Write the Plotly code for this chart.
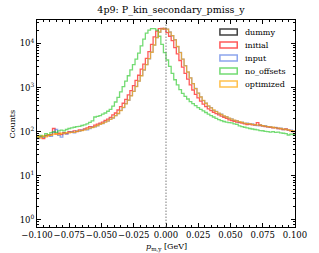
import numpy as np
import plotly.graph_objects as go

bin_lo, bin_hi, n_bins = -0.1, 0.1, 100
series_names = ["dummy", "initial", "input", "no_offsets", "optimized"]

dummy = [0] * 100

initial = [72, 78, 70, 82, 80, 86, 118, 88, 92, 86,
           95, 90, 100, 98, 104, 100, 110, 108, 116, 122,
           130, 128, 140, 148, 156, 165, 180, 192, 210, 240,
           265, 310, 370, 440, 540, 680, 850, 1100, 1450, 1900,
           2600, 3400, 4600, 6500, 9500, 14000, 19000, 21500, 22000, 21000,
           17500, 14500, 11500, 8000, 5800, 4100, 2900, 2100, 1550, 1150,
           880, 700, 580, 490, 420, 370, 330, 300, 275, 255,
           240, 225, 212, 200, 185, 178, 172, 165, 160, 156,
           150, 145, 148, 142, 140, 160, 138, 135, 130, 128,
           125, 122, 124, 118, 116, 112, 115, 108, 104, 100]

input_ = [70, 76, 74, 80, 86, 78, 96, 112, 82, 75,
          92, 88, 96, 100, 94, 104, 102, 108, 112, 110,
          118, 126, 128, 136, 148, 152, 166, 174, 192, 204,
          232, 256, 305, 350, 430, 515, 655, 815, 1060, 1390,
          1860, 2480, 3320, 4480, 6350, 9150, 13600, 17900, 21100, 21900,
          21000, 18100, 14900, 12100, 8450, 6250, 4380, 3120, 2240, 1660,
          1220, 950, 745, 615, 505, 445, 380, 350, 305, 288,
          258, 248, 225, 218, 200, 195, 180, 178, 165, 164,
          154, 155, 148, 150, 142, 138, 145, 134, 136, 128,
          130, 124, 125, 118, 120, 112, 114, 108, 108, 102]

no_offsets = [75, 82, 78, 90, 86, 95, 100, 96, 104, 108,
              104, 112, 118, 122, 126, 130, 132, 138, 142, 150,
              162, 175, 215, 222, 232, 250, 265, 290, 320, 380,
              470, 600, 800, 1050, 1400, 1850, 2500, 3300, 4400, 6000,
              8800, 12500, 17000, 20000, 21500, 21500, 20000, 14500, 9500, 6200,
              4200, 3000, 2100, 1500, 1150, 900, 740, 630, 550, 480,
              430, 390, 350, 320, 295, 272, 250, 232, 215, 200,
              188, 178, 170, 165, 160, 158, 150, 146, 135, 130,
              126, 122, 118, 115, 112, 110, 106, 105, 102, 100,
              98, 100, 96, 98, 94, 92, 90, 84, 88, 86]

optimized = [78, 72, 80, 76, 84, 82, 88, 90, 86, 92,
             90, 95, 94, 98, 96, 102, 104, 106, 110, 114,
             120, 124, 130, 138, 146, 154, 164, 176, 190, 206,
             230, 258, 300, 355, 425, 520, 650, 820, 1050, 1400,
             1850, 2500, 3300, 4500, 6300, 9200, 13500, 18000, 21000, 22000,
             21000, 18000, 15000, 12000, 8500, 6200, 4400, 3100, 2250, 1650,
             1230, 940, 750, 610, 510, 440, 385, 345, 310, 285,
             262, 245, 228, 215, 202, 192, 182, 175, 168, 162,
             156, 152, 150, 146, 144, 140, 142, 136, 134, 130,
             128, 126, 122, 120, 118, 114, 112, 110, 106, 104]

x_ticks = [-0.100, -0.075, -0.050, -0.025, 0.000, 0.025, 0.050, 0.075, 0.100]
y_ticks = [1, 10, 100, 1000, 10000]
y_ticktext = ["10<sup>0</sup>", "10<sup>1</sup>", "10<sup>2</sup>", "10<sup>3</sup>", "10<sup>4</sup>"]

series_values = [dummy, initial, input_, no_offsets, optimized]
colors = ["rgba(0,0,0,0.75)", "rgba(255,0,0,0.65)", "rgba(65,105,225,0.6)",
          "rgba(40,200,40,0.65)", "rgba(255,165,0,0.7)"]

edges = np.linspace(bin_lo, bin_hi, n_bins + 1)
FONT = "DejaVu Serif"

fig = go.Figure()
for name, vals, col in zip(series_names, series_values, colors):
    v = np.array(vals, dtype=float)
    v[v <= 0] = np.nan
    y = np.append(v, v[-1])
    fig.add_trace(go.Scatter(x=edges, y=y, mode="lines", line=dict(color=col, width=1.3, shape="hv"),
                             name=name, showlegend=False, connectgaps=False, hoverinfo="skip"))

# vertical dotted line at 0
fig.add_shape(type="line", x0=0, x1=0, y0=0, y1=1, xref="x", yref="paper",
              line=dict(color="rgba(110,110,110,0.9)", width=1, dash="1.5px,1.5px"))

# manual legend
leg_y_px = [32, 45, 58, 71, 84]
pw, ph, ml, mt = 268, 207, 37, 20
for name, col, py in zip(series_names, colors, leg_y_px):
    x0 = (227 - ml) / pw
    x1 = (245 - ml) / pw
    y0 = 1 - (py + 3 - mt) / ph
    y1 = 1 - (py - 3 - mt) / ph
    fig.add_shape(type="rect", xref="paper", yref="paper", x0=x0, x1=x1, y0=y0, y1=y1,
                  line=dict(color=col, width=1.5), fillcolor="rgba(0,0,0,0)")
    fig.add_annotation(text=name, xref="paper", yref="paper", x=(251 - ml) / pw,
                       y=1 - (py - mt) / ph, xanchor="left", yanchor="middle", showarrow=False,
                       font=dict(family=FONT, size=8, color="black"))

minor_y = [m * 10 ** k for k in range(-1, 5) for m in range(2, 10)]

axis_common = dict(showline=True, linecolor="black", linewidth=1, mirror="allticks",
                   ticks="inside", ticklen=4, tickcolor="black", showgrid=False, zeroline=False,
                   tickfont=dict(family=FONT, size=8.5, color="black"))

fig.update_layout(
    width=319, height=253,
    margin=dict(l=ml, r=14, t=mt, b=26),
    paper_bgcolor="white", plot_bgcolor="white",
    title=dict(text="4p9: P_kin_secondary_pmiss_y", x=0.536, xanchor="center",
               y=1 - 10 / 253, yanchor="middle", yref="container",
               font=dict(family=FONT, size=9.5, color="black")),
    xaxis=dict(range=[bin_lo, bin_hi], tickvals=x_ticks, tickangle=0,
               ticktext=[f"{t:.3f}".replace("-", "\u2212") for t in x_ticks],
               minor=dict(dtick=0.005, tick0=0, ticks="inside", ticklen=2, tickcolor="black"),
               **axis_common),
    yaxis=dict(type="log", range=[-0.16, 4.53], tickvals=y_ticks, ticktext=y_ticktext,
               minor=dict(tickvals=minor_y, ticks="inside", ticklen=2, tickcolor="black"),
               **axis_common),
    showlegend=False,
)

fig.add_annotation(text="<i>p</i><sub>m,y</sub> [GeV]", xref="paper", yref="paper",
                   x=0.5, y=-(247 - 227) / ph, xanchor="center", yanchor="middle",
                   showarrow=False, font=dict(family=FONT, size=8, color="black"))
fig.add_annotation(text="Counts", xref="paper", yref="paper", x=(12 - ml) / pw, y=0.5,
                   textangle=-90, xanchor="center", yanchor="middle", showarrow=False,
                   font=dict(family=FONT, size=8, color="black"))

fig.write_html("out.html", config={"displayModeBar": False},
               post_script="document.body.style.margin='0px';")
